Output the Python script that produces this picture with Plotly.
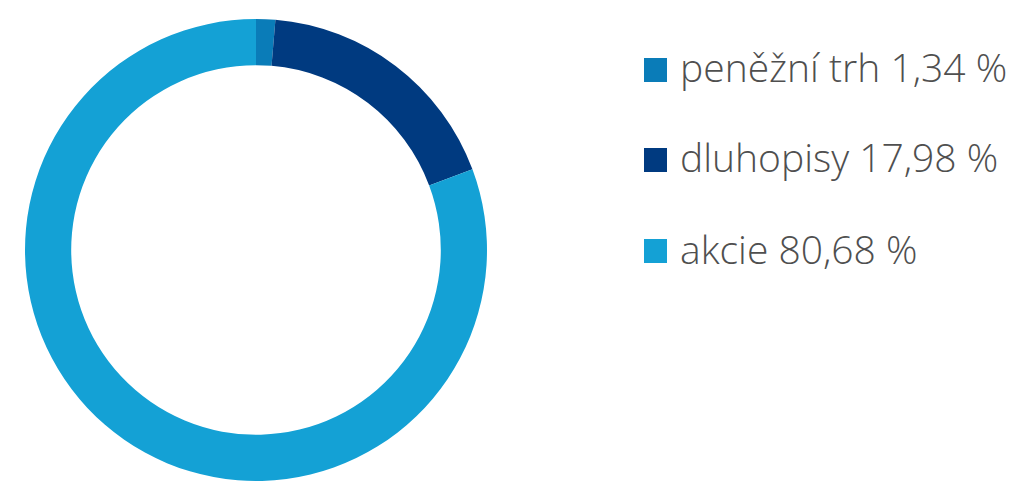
import plotly.graph_objects as go

labels = ['peněžní trh', 'dluhopisy', 'akcie']
values = [1.34, 17.98, 80.68]
colors = ['#0a7cb8', '#003a80', '#14a1d5']

W, H = 1011, 481

fig = go.Figure()

fig.add_trace(go.Pie(
    labels=labels,
    values=values,
    hole=0.8,
    sort=False,
    direction='clockwise',
    rotation=0,
    marker=dict(colors=colors, line=dict(width=0)),
    textinfo='none',
    hoverinfo='label+percent',
    showlegend=False,
    domain=dict(x=[25 / W, 487 / W], y=[0, 462 / H]),
))

# hand-made legend: coloured squares + labels
row_y = [70, 160, 251]
for lab, val, col, yc in zip(labels, values, colors, row_y):
    fig.add_shape(
        type='rect', xref='paper', yref='paper',
        x0=644 / W, x1=667 / W,
        y0=(H - yc - 12) / H, y1=(H - yc + 12) / H,
        fillcolor=col, line=dict(width=0),
    )
    txt = f"{lab} {val:.2f} %".replace('.', ',')
    fig.add_annotation(
        x=678 / W, y=(H - yc + 3) / H, xref='paper', yref='paper',
        xanchor='left', yanchor='middle', showarrow=False,
        text=txt,
        font=dict(family='Open Sans', size=39, color='#4f4f4f', weight=300),
    )

fig.update_layout(
    width=W, height=H,
    margin=dict(l=0, r=0, t=0, b=0),
    paper_bgcolor='white',
    plot_bgcolor='white',
)

# drop the browser's default 8px body margin so the figure fills the window
fig.write_html("out.html", config={'displayModeBar': False},
               post_script="document.body.style.margin='0';")
